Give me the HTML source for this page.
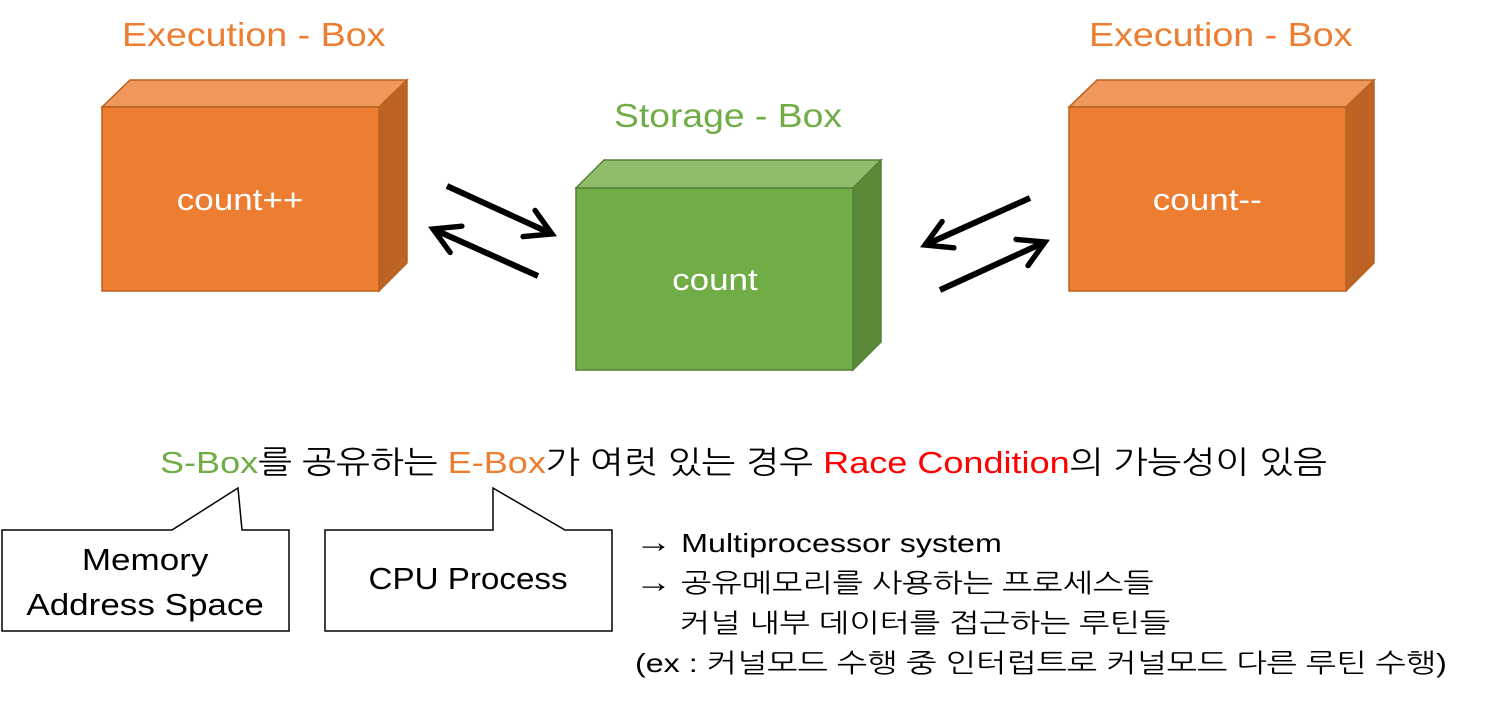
<!DOCTYPE html>
<html><head><meta charset="utf-8">
<style>
body{margin:0;width:1488px;height:701px;background:#fff;overflow:hidden;position:relative;font-family:"Liberation Sans","NanumGothic","Noto Sans CJK KR",sans-serif;}
.t{position:absolute;white-space:nowrap;}
.s{display:inline-block;transform-origin:left center;}
</style></head><body>
<svg width="1488" height="701" style="position:absolute;left:0;top:0">
<defs>
<marker id="ah" viewBox="0 0 10 10" refX="8" refY="5" markerWidth="6" markerHeight="6" orient="auto"><path d="M1,1 L8,5 L1,9" fill="none" stroke="#000" stroke-width="1.5" stroke-linecap="round"/></marker>
</defs>
<polygon points="102,107 130,80 407,80 379,107" fill="#f0975b" stroke="#b8621f" stroke-width="1.5"/>
<polygon points="379,107 407,80 407,263 379,291" fill="#bd6425" stroke="#b8621f" stroke-width="1.5"/>
<rect x="102" y="107" width="277" height="184" fill="#ed7d31" stroke="#b8621f" stroke-width="1.5"/>
<polygon points="576,188 604,160 881,160 853,188" fill="#8fbd6c" stroke="#538135" stroke-width="1.5"/>
<polygon points="853,188 881,160 881,342 853,370" fill="#5a8a37" stroke="#538135" stroke-width="1.5"/>
<rect x="576" y="188" width="277" height="182" fill="#70ad47" stroke="#538135" stroke-width="1.5"/>
<polygon points="1069,107 1097,80 1374,80 1346,107" fill="#f0975b" stroke="#b8621f" stroke-width="1.5"/>
<polygon points="1346,107 1374,80 1374,263 1346,291" fill="#bd6425" stroke="#b8621f" stroke-width="1.5"/>
<rect x="1069" y="107" width="277" height="184" fill="#ed7d31" stroke="#b8621f" stroke-width="1.5"/>
<g stroke="#000" stroke-width="6" fill="none" marker-end="url(#ah)">
<line x1="447" y1="186" x2="552" y2="234"/>
<line x1="538" y1="276" x2="433" y2="229"/>
<line x1="1030" y1="198" x2="925" y2="245"/>
<line x1="940" y1="290" x2="1045" y2="242"/>
</g>
<path d="M2,530 L172,530 L238,488 L242,530 L289,530 L289,631 L2,631 Z" fill="#fff" stroke="#000" stroke-width="1.5"/>
<path d="M325,530 L493,530 L493,488 L565,530 L612,530 L612,631 L325,631 Z" fill="#fff" stroke="#000" stroke-width="1.5"/>
</svg>
<div class="t" style="left:122px;top:16px;font-size:33px;color:#ed7d31"><span class="s" style="transform:scaleX(1.14)">Execution - Box</span></div>
<div class="t" style="left:1089px;top:16px;font-size:33px;color:#ed7d31"><span class="s" style="transform:scaleX(1.14)">Execution - Box</span></div>
<div class="t" style="left:614px;top:97px;font-size:33px;color:#70ad47"><span class="s" style="transform:scaleX(1.13)">Storage - Box</span></div>
<div class="t" style="left:102px;top:182px;width:277px;text-align:center;font-size:31px;color:#fff"><span class="s" style="transform:scaleX(1.13);transform-origin:center">count++</span></div>
<div class="t" style="left:576px;top:262px;width:277px;text-align:center;font-size:31px;color:#fff"><span class="s" style="transform:scaleX(1.13);transform-origin:center">count</span></div>
<div class="t" style="left:1069px;top:182px;width:277px;text-align:center;font-size:31px;color:#fff"><span class="s" style="transform:scaleX(1.13);transform-origin:center">count--</span></div>
<div class="t" style="left:160px;top:443px;font-size:31px;color:#000"><span class="s" style="transform:scaleX(1.163)"><span style="color:#70ad47">S-Box</span>를 공유하는 <span style="color:#ed7d31">E-Box</span>가 여럿 있는 경우 <span style="color:#ff0000">Race Condition</span>의 가능성이 있음</span></div>
<div class="t" style="left:2px;top:537px;width:287px;text-align:center;font-size:31px;line-height:45px"><span class="s" style="transform:scaleX(1.13);transform-origin:center">Memory<br>Address Space</span></div>
<div class="t" style="left:325px;top:561px;width:287px;text-align:center;font-size:31px"><span class="s" style="transform:scaleX(1.07);transform-origin:center">CPU Process</span></div>
<div class="t" style="left:635px;top:523px;font-size:26px;line-height:40px"><span class="s" style="transform:scaleX(1.24)"><span style="font-size:30px">→</span> Multiprocessor system<br><span style="font-size:30px">→</span> 공유메모리를 사용하는 프로세스들<br>&nbsp;&nbsp;&nbsp;&nbsp; 커널 내부 데이터를 접근하는 루틴들<br>(ex : 커널모드 수행 중 인터럽트로 커널모드 다른 루틴 수행)</span></div>
</body></html>
